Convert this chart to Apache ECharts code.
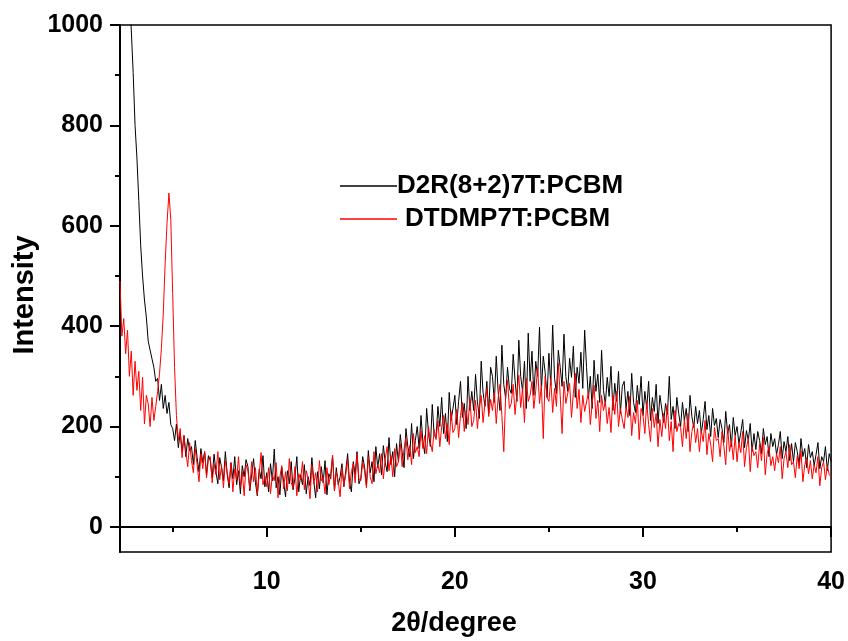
<!DOCTYPE html>
<html>
<head>
<meta charset="utf-8">
<script src="https://cdn.jsdelivr.net/npm/echarts@6/dist/echarts.min.js"></script>
<style>
html,body{margin:0;padding:0;background:#fff;}
#chart{width:848px;height:641px;}
</style>
</head>
<body>
<div id="chart"></div>
<script>
// 2θ sampling grid (degrees): start and step of the scan
const thetaStart = 2.2;
const thetaStep = 0.1;

const seriesNames = ['D2R(8+2)7T:PCBM', 'DTDMP7T:PCBM'];

// D2R(8+2)7T:PCBM intensities, 2θ = 2.2 ... 40.0
const d2rIntensity = [
1600,1460,1330,1225,1135,1060,990,905,
800,735,650,560,500,452,418,370,372,335,
318,290,296,252,284,236,262,226,248,204,
196,172,205,158,188,150,182,140,176,152,
160,124,172,138,110,156,128,150,104,142,
132,98,145,110,86,138,118,92,150,104,
78,128,96,140,84,112,66,122,100,134,
120,72,104,136,88,62,115,96,142,80,
108,70,126,92,155,78,100,64,118,90,
60,112,86,130,74,98,140,70,104,84,
124,66,100,82,138,92,58,110,76,120,
88,132,64,106,96,142,72,118,84,100,
126,80,112,146,90,70,130,104,150,86,
96,140,120,82,152,108,130,90,160,118,
146,104,162,128,110,178,124,150,100,166,
130,184,148,118,196,160,140,206,136,172,
200,156,222,170,146,236,186,160,244,182,
178,240,200,258,186,226,170,268,212,236,
262,204,250,290,218,246,196,300,232,270,
232,304,250,216,330,268,240,290,226,318,
300,248,340,270,232,362,284,256,318,276,
266,344,292,250,372,300,270,330,236,386,
290,350,262,330,300,398,272,340,308,258,
346,282,402,296,266,352,318,280,384,300,
270,336,298,360,258,318,286,348,276,392,
318,256,300,236,332,270,304,248,352,272,
244,298,260,320,232,286,250,310,226,280,
290,236,270,222,306,248,228,282,244,300,
222,270,236,290,212,258,230,284,206,262,
262,208,246,224,300,214,240,196,258,226,
200,248,212,236,190,262,220,198,240,206,
232,186,214,250,194,222,180,236,202,216,
178,214,196,168,230,186,204,160,218,182,
200,166,188,214,158,192,172,206,150,186,
154,190,172,146,196,164,180,140,186,160,
176,144,164,190,136,170,150,180,132,166,
130,168,150,124,176,140,156,118,164,138,
150,122,144,168,116,140,130,160,112,146,
130
];

// DTDMP7T:PCBM intensities, 2θ = 2.2 ... 40.0
const dtdmpIntensity = [
490,380,415,345,392,300,350,262,
330,272,310,232,298,205,262,245,200,258,
212,240,270,305,355,425,525,605,665,612,
465,318,222,172,196,138,182,150,120,168,
132,108,156,124,90,146,116,150,98,136,
140,88,126,104,150,94,122,78,132,108,
86,128,70,116,94,140,80,110,62,124,
112,76,130,90,118,64,104,148,84,100,
80,118,66,104,92,128,58,100,122,76,
110,72,136,88,78,120,62,106,94,130,
74,112,96,56,124,86,108,70,132,92,
100,66,118,84,106,142,72,110,90,60,
118,82,104,134,76,110,126,88,146,96,
92,128,112,78,140,100,86,150,106,124,
108,146,96,136,160,112,142,100,156,120,
130,166,120,156,178,134,162,124,186,148,
160,140,192,156,182,146,200,168,150,194,
174,212,160,200,222,176,206,164,230,188,
196,234,178,222,248,190,232,204,256,200,
212,252,196,238,262,208,246,276,220,254,
232,268,206,256,284,222,150,262,292,236,
246,284,224,266,302,238,276,208,296,250,
262,290,236,272,318,246,282,176,300,258,
250,296,228,276,240,326,262,186,290,246,
244,286,218,266,306,236,274,208,262,230,
228,268,204,246,282,216,252,190,262,232,
250,206,238,188,262,224,270,200,236,214,
196,240,218,260,182,228,206,252,174,236,
222,186,250,204,170,236,198,226,160,214,
180,226,196,244,172,210,150,232,190,206,
198,160,214,176,226,150,190,208,168,196,
150,192,170,212,144,186,164,130,198,172,
176,140,190,160,124,200,150,172,134,182,
130,168,148,190,120,158,176,110,160,142,
150,118,166,132,178,104,146,160,122,140,
112,146,128,160,96,136,150,118,164,124,
130,98,142,116,152,90,124,138,106,132,
96,124,108,140,82,118,130,94,122,104,
100
];

const xMajorTicks = [10, 20, 30, 40];
const xMinorTicks = [5, 15, 25, 35];
const yMajorTicks = [0, 200, 400, 600, 800, 1000];
const yMinorTicks = [100, 300, 500, 700, 900];

const xTitle = '2θ/degree';
const yTitle = 'Intensity';

function toPairs(arr) {
  return arr.map((v, i) => [+(thetaStart + i * thetaStep).toFixed(2), v]);
}

const FONT = '"Liberation Sans", Arial, sans-serif';
const chart = echarts.init(document.getElementById('chart'), null, {renderer: 'canvas'});

const labelStyle = {fontFamily: FONT, fontWeight: 'bold', fontSize: 25, color: '#000', formatter: v => String(v)};

chart.setOption({
  animation: false,
  backgroundColor: '#fff',
  grid: {left: 120, right: 16, top: 25, bottom: 89, show: true, borderColor: '#000', borderWidth: 1.5, backgroundColor: 'transparent'},
  legend: {
    orient: 'vertical',
    left: 335,
    top: 168,
    itemWidth: 57,
    itemHeight: 1.5,
    itemGap: 7,
    icon: 'rect',
    textStyle: {fontFamily: FONT, fontWeight: 'bold', fontSize: 26, color: '#000'},
    data: [
      {name: seriesNames[0], textStyle: {padding: [0, 0, 0, -5]}},
      {name: seriesNames[1], textStyle: {padding: [0, 0, 0, 3]}}
    ]
  },
  xAxis: [
    {
      type: 'value', min: 2.2, max: 40,
      axisLine: {show: true, lineStyle: {color: '#000', width: 2}},
      axisTick: {show: true, inside: false, length: 10, customValues: xMajorTicks, lineStyle: {color: '#000', width: 2}},
      axisLabel: {show: true, margin: 18, customValues: xMajorTicks, ...labelStyle},
      splitLine: {show: false}
    },
    {
      type: 'value', min: 2.2, max: 40, position: 'bottom',
      axisLine: {show: false},
      axisTick: {show: true, inside: false, length: 5, customValues: xMinorTicks, lineStyle: {color: '#000', width: 2}},
      axisLabel: {show: false},
      splitLine: {show: false}
    }
  ],
  yAxis: [
    {
      type: 'value', min: -50, max: 1000,
      axisLine: {show: true, lineStyle: {color: '#000', width: 2}},
      axisTick: {show: true, inside: false, length: 10, customValues: yMajorTicks, lineStyle: {color: '#000', width: 2}},
      axisLabel: {show: true, margin: 17, customValues: yMajorTicks, ...labelStyle},
      splitLine: {show: false}
    },
    {
      type: 'value', min: -50, max: 1000, position: 'left',
      axisLine: {show: false},
      axisTick: {show: true, inside: false, length: 5, customValues: yMinorTicks, lineStyle: {color: '#000', width: 2}},
      axisLabel: {show: false},
      splitLine: {show: false}
    }
  ],
  graphic: [
    {type: 'text', x: 454, y: 624, style: {text: xTitle, font: 'bold 27px ' + FONT, fill: '#000', textAlign: 'center', textVerticalAlign: 'middle'}},
    {type: 'text', x: 25, y: 295, rotation: Math.PI / 2, style: {text: yTitle, font: 'bold 29px ' + FONT, fill: '#000', textAlign: 'center', textVerticalAlign: 'middle'}}
  ],
  series: [
    {
      name: seriesNames[0], type: 'line', xAxisIndex: 0, yAxisIndex: 0,
      data: toPairs(d2rIntensity), showSymbol: false, symbol: 'none', sampling: null,
      lineStyle: {color: '#000', width: 1}, itemStyle: {color: '#000'}, clip: true, z: 2
    },
    {
      name: seriesNames[1], type: 'line', xAxisIndex: 0, yAxisIndex: 0,
      data: toPairs(dtdmpIntensity), showSymbol: false, symbol: 'none', sampling: null,
      lineStyle: {color: '#ff0000', width: 1}, itemStyle: {color: '#ff0000'}, clip: true, z: 3
    }
  ]
});
</script>
</body>
</html>
